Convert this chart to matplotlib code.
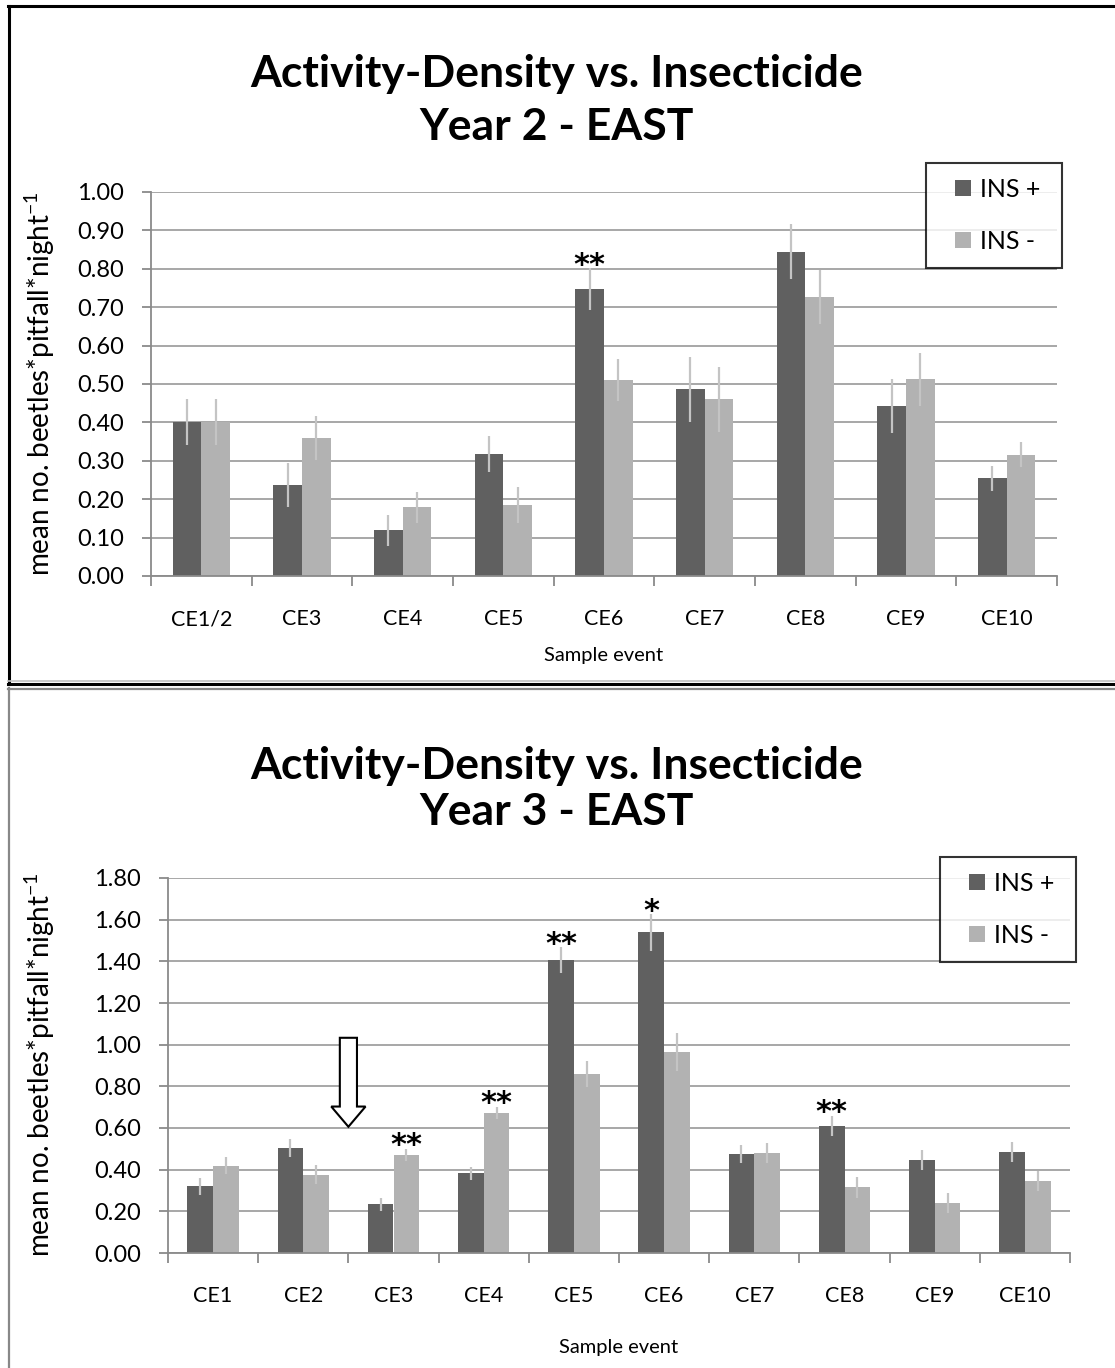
import matplotlib
matplotlib.use("Agg")
import matplotlib.pyplot as plt
from matplotlib.patches import FancyArrow
from matplotlib.lines import Line2D
import numpy as np

# ---------------- data ----------------
cats_y2 = ['CE1/2', 'CE3', 'CE4', 'CE5', 'CE6', 'CE7', 'CE8', 'CE9', 'CE10']
y2_plus = [0.40, 0.236, 0.119, 0.318, 0.747, 0.486, 0.845, 0.442, 0.254]
y2_plus_err = [0.06, 0.057, 0.04, 0.046, 0.055, 0.084, 0.071, 0.07, 0.033]
y2_minus = [0.40, 0.36, 0.179, 0.185, 0.51, 0.46, 0.726, 0.512, 0.316]
y2_minus_err = [0.06, 0.057, 0.04, 0.046, 0.055, 0.084, 0.071, 0.07, 0.033]
y2_sig = [(4, 'plus', '**')]

cats_y3 = ['CE1', 'CE2', 'CE3', 'CE4', 'CE5', 'CE6', 'CE7', 'CE8', 'CE9', 'CE10']
y3_plus = [0.32, 0.504, 0.233, 0.382, 1.405, 1.539, 0.475, 0.611, 0.448, 0.486]
y3_plus_err = [0.04, 0.043, 0.03, 0.03, 0.062, 0.087, 0.045, 0.047, 0.048, 0.048]
y3_minus = [0.419, 0.376, 0.47, 0.673, 0.859, 0.966, 0.481, 0.315, 0.24, 0.347]
y3_minus_err = [0.04, 0.046, 0.03, 0.03, 0.064, 0.09, 0.048, 0.05, 0.049, 0.048]
y3_sig = [(2, 'minus', '**'), (3, 'minus', '**'), (4, 'plus', '**'),
          (5, 'plus', '*'), (7, 'plus', '**')]

series_labels = ['INS +', 'INS -']
title_line1 = 'Activity-Density vs. Insecticide'
title_line2 = ['Year 2 - EAST', 'Year 3 - EAST']
ylabel = 'mean no. beetles*pitfall*night$^{\\mathdefault{-1}}$'
xlabel = 'Sample event'

# ---------------- style ----------------
FONT = ['Lato', 'DejaVu Sans']
plt.rcParams['font.family'] = FONT
plt.rcParams['mathtext.fontset'] = 'custom'
plt.rcParams['mathtext.rm'] = 'Lato'
plt.rcParams['axes.unicode_minus'] = False
C_PLUS = '#606060'
C_MINUS = '#b2b2b2'
C_ERR = '#c4c4c4'
C_GRID = '#a0a0a0'
C_AXIS = '#8a8a8a'
SERIES_COLORS = [C_PLUS, C_MINUS]

W, H = 1115, 1368
fig = plt.figure(figsize=(W / 100, H / 100), dpi=100)


def fx(px):
    return px / W


def fy(py):
    return 1 - py / H


def panel(ax, cats, plus, plus_err, minus, minus_err, sig, ymax, ystep,
          leg_box):
    n = len(cats)
    x = np.arange(n)
    w = 1 / 3.5
    ax.set_axisbelow(True)
    ax.yaxis.grid(True, color=C_GRID, lw=1.3)
    ax.bar(x - w / 2, plus, w, color=C_PLUS, zorder=2)
    ax.bar(x + w / 2, minus, w, color=C_MINUS, zorder=2)
    ax.errorbar(x - w / 2, plus, yerr=plus_err, fmt='none', ecolor=C_ERR,
                elinewidth=1.6, capsize=0, zorder=3)
    ax.errorbar(x + w / 2, minus, yerr=minus_err, fmt='none', ecolor=C_ERR,
                elinewidth=1.6, capsize=0, zorder=3)
    for idx, which, txt in sig:
        if which == 'plus':
            xx, top = idx - w / 2, plus[idx] + plus_err[idx]
        else:
            xx, top = idx + w / 2, minus[idx] + minus_err[idx]
        ax.annotate(txt, (xx, top), xytext=(0, -4), textcoords='offset points',
                    ha='center', va='baseline', fontsize=22, fontweight='bold',
                    family=['DejaVu Sans'], zorder=5)
    ax.set_xlim(-0.5, n - 0.5)
    ax.set_ylim(0, ymax)
    yt = np.arange(0, ymax + 1e-9, ystep)
    ax.set_yticks(yt)
    ax.set_yticklabels([f'{v:.2f}' for v in yt], fontsize=17)
    ax.set_xticks(np.arange(-0.5, n, 1.0))
    ax.set_xticklabels([])
    ax.set_xticks(x, minor=True)
    ax.set_xticklabels(cats, minor=True, fontsize=15.5)
    ax.tick_params(axis='x', which='major', length=7, color=C_AXIS, width=1.3,
                   direction='out')
    ax.tick_params(axis='x', which='minor', length=0, pad=24)
    ax.tick_params(axis='y', length=6.5, color=C_AXIS, width=1.3, pad=13)
    for s in ['top', 'right']:
        ax.spines[s].set_visible(False)
    for s in ['left', 'bottom']:
        ax.spines[s].set_color(C_AXIS)
        ax.spines[s].set_linewidth(1.3)
    handles = [Line2D([], [], ls='none', marker='s', markersize=11.5,
                      markerfacecolor=c, markeredgewidth=0)
               for c in SERIES_COLORS]
    x0, y0, x1, y1 = leg_box
    leg = fig.legend(handles, series_labels,
                     loc='upper left',
                     bbox_to_anchor=(fx(x0), fy(y1), fx(x1 - x0), (y1 - y0) / H),
                     bbox_transform=fig.transFigure, mode='expand',
                     fontsize=18, frameon=True, fancybox=False,
                     labelspacing=1.15, handlelength=1.75, handleheight=0.7,
                     handletextpad=-0.2, borderpad=0.6, borderaxespad=0,
                     numpoints=1)
    leg.get_frame().set_edgecolor('black')
    leg.get_frame().set_linewidth(1.5)
    return ax


def fline(xs, ys, color, lw):
    fig.add_artist(Line2D([fx(v) for v in xs], [fy(v) for v in ys],
                          color=color, lw=lw, transform=fig.transFigure))


# ---------------- top panel ----------------
ax1 = fig.add_axes([fx(151), fy(576), fx(1057 - 151), (576 - 192) / H])
panel(ax1, cats_y2, y2_plus, y2_plus_err, y2_minus, y2_minus_err, y2_sig,
      1.0, 0.1, (926, 163, 1062, 266))
fig.text(fx(557), fy(74), title_line1, ha='center', va='center', fontsize=32,
         fontweight='bold')
fig.text(fx(557), fy(127), title_line2[0], ha='center', va='center',
         fontsize=32, fontweight='bold')
fig.text(fx(40), fy(384), ylabel, rotation=90, ha='center', va='center',
         fontsize=20)
fig.text(fx(604), fy(655), xlabel, ha='center', va='center', fontsize=14.5)

# ---------------- bottom panel ----------------
ax2 = fig.add_axes([fx(168), fy(1253), fx(1070 - 168), (1253 - 878) / H])
panel(ax2, cats_y3, y3_plus, y3_plus_err, y3_minus, y3_minus_err, y3_sig,
      1.8, 0.2, (940, 857, 1076, 961))
fig.text(fx(557), fy(766), title_line1, ha='center', va='center', fontsize=32,
         fontweight='bold')
fig.text(fx(557), fy(812), title_line2[1], ha='center', va='center',
         fontsize=32, fontweight='bold')
fig.text(fx(40), fy(1065), ylabel, rotation=90, ha='center', va='center',
         fontsize=20)
fig.text(fx(619), fy(1347), xlabel, ha='center', va='center', fontsize=14.5)

# hollow arrow between CE2 and CE3
ax2.add_patch(FancyArrow(1.5, 1.033, 0, -0.427, width=0.19, head_width=0.38,
                         head_length=0.097, length_includes_head=True,
                         facecolor='white', edgecolor='black', lw=1.5,
                         zorder=6))

# ---------------- panel borders ----------------
fline([8.5, 8.5], [6, 684], 'black', 2.2)
fline([8, 1115], [6, 6], 'black', 2.2)
fline([8, 1115], [684, 684], 'black', 2.2)
fline([8, 1115], [681, 681], '#c0c0c0', 1.2)
fline([8, 1115], [688.5, 688.5], '#888888', 1.6)
fline([8.5, 8.5], [688, 1368], '#888888', 1.6)

fig.savefig('out.png', dpi=100)
